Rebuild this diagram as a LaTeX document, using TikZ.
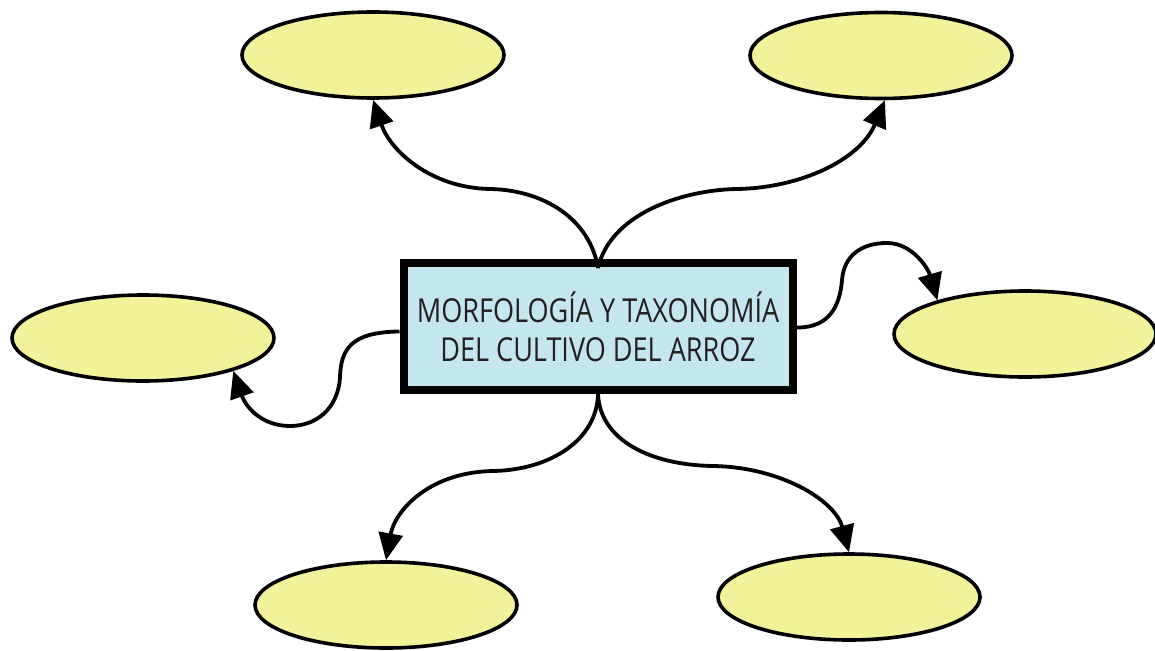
\documentclass[tikz,border=0pt]{standalone}
\usepackage{fontspec}
\setmainfont{Open Sans}[FakeStretch=0.82]
\usetikzlibrary{shapes.geometric,arrows.meta}
\definecolor{boxblue}{HTML}{C3E6EF}
\definecolor{ovalyellow}{HTML}{F3F29A}
\definecolor{ink}{HTML}{231F20}
\begin{document}
\begin{tikzpicture}[x=1pt,y=-1pt,
  oval/.style={ellipse, draw=black, line width=3.6pt, fill=ovalyellow,
    minimum width=262pt, minimum height=86pt, inner sep=0pt},
  titlebox/.style={draw=black, line width=8pt, fill=boxblue,
    minimum width=389pt, minimum height=127pt, inner sep=0pt,
    align=center, text=ink, font=\fontsize{33}{39}\selectfont},
  link/.style={line width=3.8pt, -{Triangle[length=27pt,width=24pt]}}]
\useasboundingbox (0,0) rectangle (1155,650);

% empty bubbles around the topic
\node[oval] (tl) at (373,55) {};
\node[oval] (tr) at (881,55.5) {};
\node[oval] (lf) at (143,338) {};
\node[oval] (rt) at (1025,334) {};
\node[oval] (bl) at (386,605) {};
\node[oval] (br) at (849,597) {};

% central topic
\node[titlebox] (topic) at (598,326.5)
  {MORFOLOGÍA Y TAXONOMÍA\\DEL CULTIVO DEL ARROZ};

% wavy connectors
\draw[link] ([yshift=-9pt]topic.north)
  .. controls (590,220) and (545,190) .. (490,189)
  .. controls (430,188) and (390,150) .. (tl.south);
\draw[link] ([yshift=-9pt]topic.north)
  .. controls (610,215) and (680,190) .. (737,189)
  .. controls (800,188) and (860,160) .. (tr.-85);
\draw[link] ([yshift=-5pt]topic.west)
  .. controls (350,332) and (341,350) .. (340,377)
  .. controls (338,410) and (315,426) .. (290,426)
  .. controls (260,426) and (245,405) .. (lf.-20);
\draw[link] ([yshift=-1pt]topic.east)
  .. controls (830,328) and (840,305) .. (842,280)
  .. controls (844,255) and (862,243) .. (887,243)
  .. controls (912,243) and (928,268) .. (rt.159);
\draw[link] (topic.south)
  .. controls (597,440) and (550,470) .. (493,471)
  .. controls (430,472) and (395,510) .. (bl.north);
\draw[link] (topic.south)
  .. controls (600,440) and (650,465) .. (713,466)
  .. controls (780,467) and (835,500) .. (br.north);
\end{tikzpicture}
\end{document}
